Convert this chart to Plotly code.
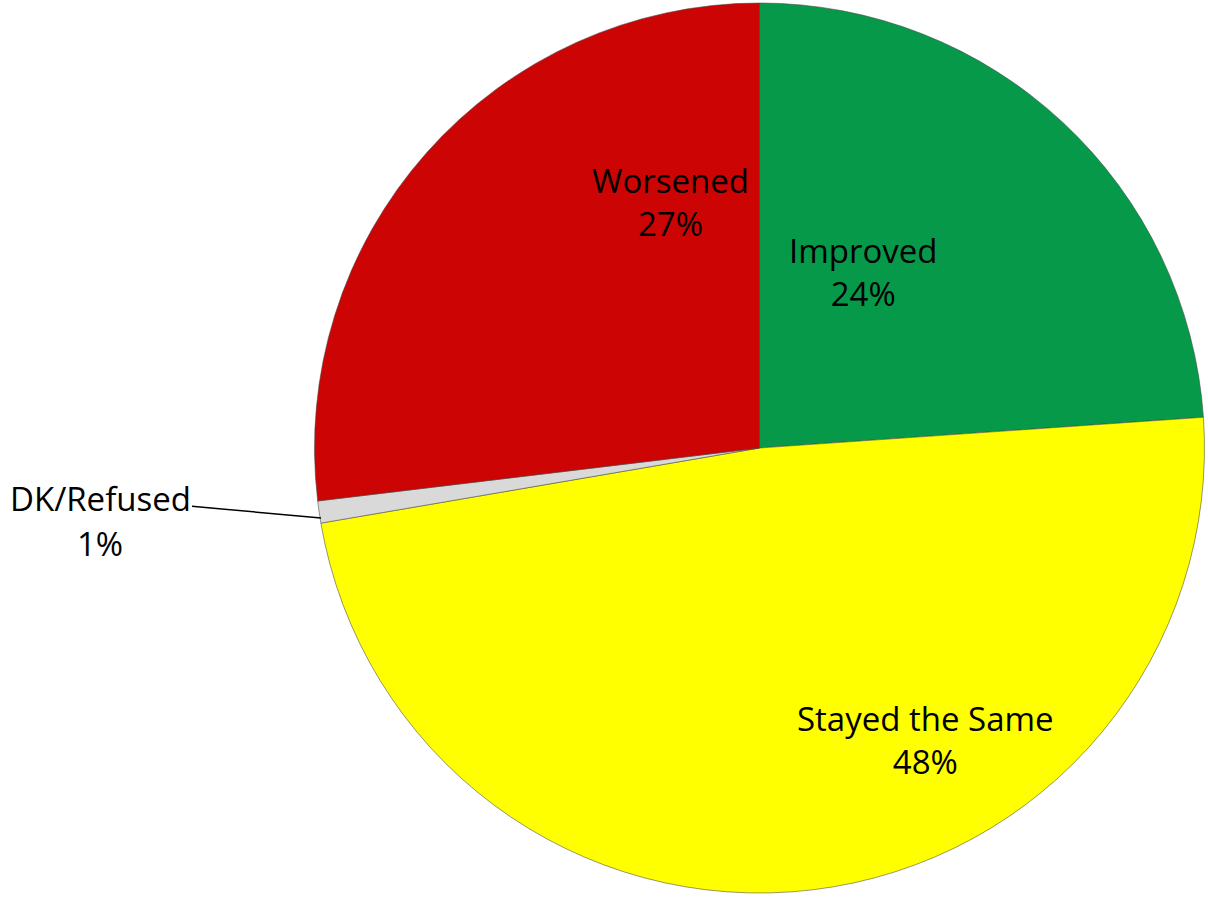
import plotly.graph_objects as go

labels = ["Improved", "Stayed the Same", "DK/Refused", "Worsened"]
values = [23.9, 48.4, 0.8, 26.9]
colors = ["#07994A", "#FFFF00", "#D9D9D9", "#CC0404"]

W, H = 1208, 897
L, R, T, B = 313, 2, 3, 4
FONT = dict(family="Open Sans", size=33, color="black")


def px(x, y):
    # page pixels -> paper coordinates
    return (x - L) / (W - L - R), 1 - (y - T) / (H - T - B)


fig = go.Figure(go.Pie(
    labels=labels,
    values=values,
    sort=False,
    direction="clockwise",
    rotation=0,
    marker=dict(colors=colors, line=dict(color="rgba(70,70,70,0.55)", width=1)),
    textinfo="none",
    showlegend=False,
    hoverinfo="label+percent",
))

# label placement, as in the original (moved by hand)
label_pos = {
    "Improved": (863, 272),
    "Stayed the Same": (925, 740),
    "Worsened": (670, 202),
}
total = sum(values)
for lab, val in zip(labels, values):
    pct = f"{round(val / total * 100)}%"
    if lab in label_pos:
        x, y = px(*label_pos[lab])
        fig.add_annotation(x=x, y=y, xref="paper", yref="paper",
                           xanchor="center", yanchor="middle",
                           text=f"{lab}<br>{pct}", showarrow=False,
                           font=FONT, align="center")
    else:
        x, y = px(321, 518)
        fig.add_annotation(x=x, y=y, xref="paper", yref="paper",
                           ax=100 - 321, ay=498 - 518,
                           xanchor="center", yanchor="middle",
                           text=lab, showarrow=True, arrowhead=0,
                           arrowwidth=1.5, arrowcolor="black",
                           font=FONT)
        x, y = px(100, 543)
        fig.add_annotation(x=x, y=y, xref="paper", yref="paper",
                           xanchor="center", yanchor="middle",
                           text=pct, showarrow=False, font=FONT)

fig.update_layout(
    width=W,
    height=H,
    margin=dict(l=L, r=R, t=T, b=B),
    paper_bgcolor="white",
    plot_bgcolor="white",
)

fig.write_html("out.html", config={"displayModeBar": False},
               post_script="document.body.style.margin = '0';")
